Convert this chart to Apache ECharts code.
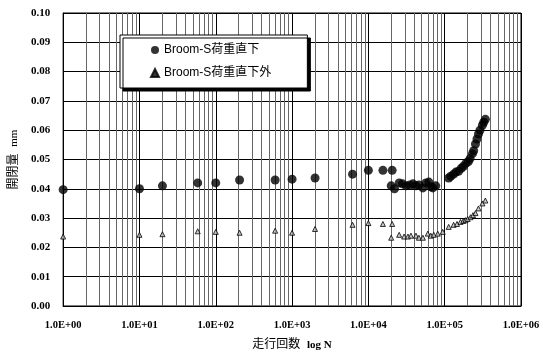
<!DOCTYPE html>
<html><head><meta charset="utf-8">
<script src="https://cdn.jsdelivr.net/npm/echarts@6/dist/echarts.min.js"></script>
<style>html,body{margin:0;padding:0;background:#fff}#c{width:543px;height:356px}</style>
</head><body><div id="c"></div>
<script>
const seriesNames = ['Broom-S荷重直下', 'Broom-S荷重直下外'];
const circleN = [1, 10, 20, 58, 100, 205, 600, 1000, 2000, 6200, 10000, 15500, 20500,
  19900, 22000, 25300, 28000, 31200, 35000, 38400, 42000, 46000, 51800, 56600, 62000, 66000, 69800, 76400,
  112800, 120000, 131000, 140000, 152000, 165000, 176600, 190000, 205000, 215000, 231000, 240000, 253000, 265000, 277000, 290000, 312000, 325000, 341000];
const circleV = [0.0397, 0.0400, 0.0410, 0.0420, 0.0420, 0.0430, 0.0430, 0.0433, 0.0437, 0.0450, 0.0463, 0.0463, 0.0463,
  0.0410, 0.0400, 0.0420, 0.0417, 0.0410, 0.0413, 0.0417, 0.0410, 0.0413, 0.0403, 0.0420, 0.0423, 0.0407, 0.0403, 0.0410,
  0.0437, 0.0443, 0.0450, 0.0457, 0.0460, 0.0470, 0.0477, 0.0487, 0.0493, 0.0503, 0.0520, 0.0530, 0.0553, 0.0570, 0.0587, 0.0600, 0.0617, 0.0627, 0.0637];
const triN = [1, 10, 20, 58, 100, 205, 600, 1000, 2000, 6200, 10000, 15500, 20500,
  19900, 25300, 29400, 33000, 36100, 42000, 45900, 51800, 60100, 65800, 71900, 81100, 94200,
  112800, 131000, 145000, 161000, 175000, 187000, 200000, 218000, 235000, 253000, 277000, 312000, 341000];
const triV = [0.0237, 0.0243, 0.0245, 0.0255, 0.0253, 0.0250, 0.0257, 0.0250, 0.0263, 0.0277, 0.0283, 0.0280, 0.0280,
  0.0233, 0.0243, 0.0237, 0.0237, 0.0240, 0.0240, 0.0233, 0.0233, 0.0247, 0.0240, 0.0243, 0.0247, 0.0253,
  0.0270, 0.0277, 0.0280, 0.0287, 0.0290, 0.0293, 0.0297, 0.0303, 0.0310, 0.0317, 0.0333, 0.0350, 0.0360];
const minorGridN = [];
for (let e = 0; e < 6; e++) for (let m = 2; m <= 9; m++) minorGridN.push(m * Math.pow(10, e));

const chart = echarts.init(document.getElementById('c'), null, {renderer: 'canvas'});
const serif = 'Liberation Serif, DejaVu Serif, serif';
const cjk = 'Liberation Sans, Noto Sans CJK JP, sans-serif';
chart.setOption({
  animation: false,
  grid: {left: 59, right: 22, top: 13, bottom: 42, show: true, borderColor: '#000', borderWidth: 1},
  legend: {
    orient: 'vertical', left: 120, top: 35, z: 20,
    padding: [9, 36, 9, 30], itemGap: 11,
    backgroundColor: '#fff', borderColor: '#000', borderWidth: 1,
    shadowColor: '#000', shadowOffsetX: 3, shadowOffsetY: 3, shadowBlur: 0,
    itemWidth: 8, itemHeight: 8,
    textStyle: {fontFamily: cjk, fontSize: 12, color: '#000'},
    data: [{name: seriesNames[0], icon: 'circle'}, {name: seriesNames[1], icon: 'triangle', itemStyle: {color: '#000'}}]
  },
  xAxis: {
    type: 'log', logBase: 10, min: 1, max: 1e6,
    axisLine: {lineStyle: {color: '#000'}},
    axisTick: {show: false},
    splitLine: {show: true, lineStyle: {color: '#000', width: 1}},
    axisLabel: {
      margin: 14, fontFamily: serif, fontWeight: 'bold', fontSize: 10.5, color: '#000',
      formatter: v => { const e = Math.round(Math.log10(v)); return '1.0E+' + (e < 10 ? '0' + e : e); }
    },
    name: '{a|走行回数}  {b|log N}', nameLocation: 'middle', nameGap: 33,
    nameTextStyle: {rich: {a: {fontFamily: cjk, fontSize: 12, color: '#000'}, b: {fontFamily: serif, fontWeight: 'bold', fontSize: 11, color: '#000'}}}
  },
  yAxis: {
    type: 'value', min: 0, max: 0.10, interval: 0.01,
    axisLine: {show: true, lineStyle: {color: '#000'}},
    axisTick: {show: false},
    splitLine: {show: true, lineStyle: {color: '#000', width: 1}},
    axisLabel: {margin: 13, fontFamily: serif, fontWeight: 'bold', fontSize: 11, color: '#000', formatter: v => v.toFixed(2)},
    name: '{a|開閉量}  {b|mm}', nameLocation: 'middle', nameGap: 43,
    nameTextStyle: {rich: {a: {fontFamily: cjk, fontSize: 12, color: '#000'}, b: {fontFamily: serif, fontSize: 11, color: '#000'}}}
  },
  series: [
    {
      name: 'grid', type: 'line', data: [], silent: true,
      markLine: {silent: true, symbol: 'none', label: {show: false},
        lineStyle: {color: '#666', width: 1, type: 'solid'},
        data: minorGridN.map(v => ({xAxis: v}))}
    },
    {
      name: seriesNames[0], type: 'scatter', symbol: 'circle', symbolSize: 9,
      itemStyle: {color: '#000'},
      data: circleN.map((n, i) => [n, circleV[i]]), z: 5
    },
    {
      name: seriesNames[1], type: 'scatter', symbol: 'triangle', symbolSize: 5,
      itemStyle: {color: '#bbb', borderColor: '#000', borderWidth: 1},
      data: triN.map((n, i) => [n, triV[i]]), z: 5
    }
  ]
});
</script></body></html>
